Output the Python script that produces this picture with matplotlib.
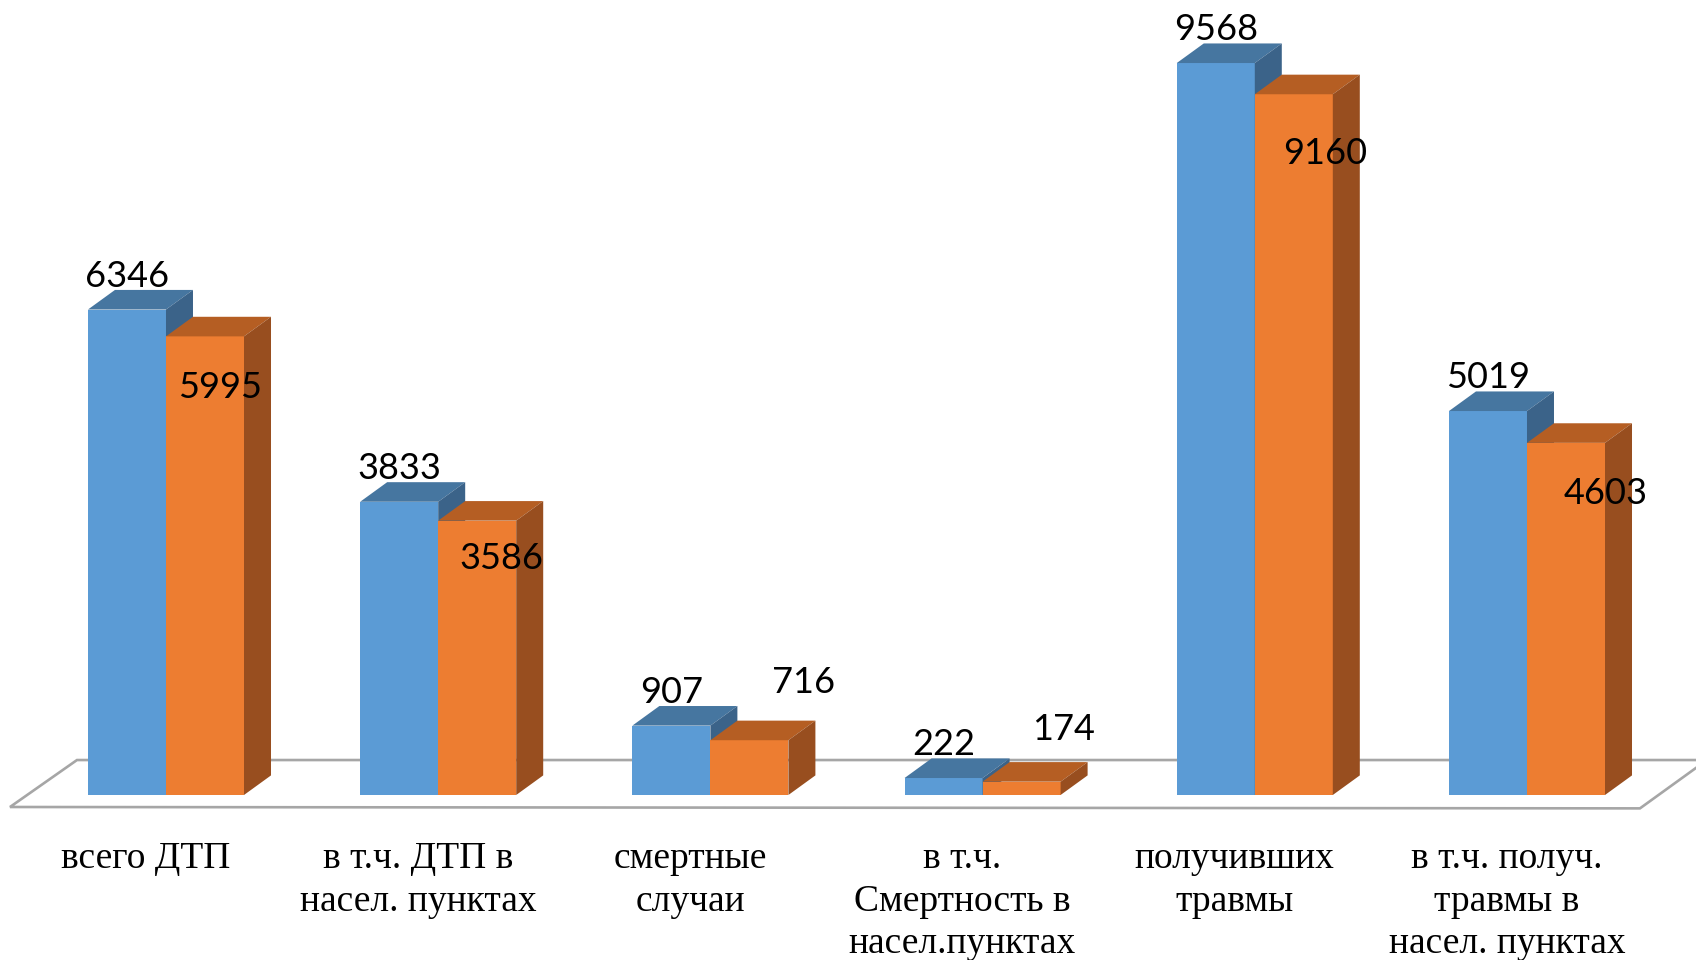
import matplotlib
matplotlib.use("Agg")
import matplotlib.pyplot as plt
from matplotlib.patches import Polygon

# ---- data ----
categories = [
    "всего ДТП",
    "в т.ч. ДТП в\nнасел. пунктах",
    "смертные\nслучаи",
    "в т.ч.\nСмертность в\nнасел.пунктах",
    "получивших\nтравмы",
    "в т.ч. получ.\nтравмы в\nнасел. пунктах",
]
series_a = [6346, 3833, 907, 222, 9568, 5019]   # blue
series_b = [5995, 3586, 716, 174, 9160, 4603]   # orange

# ---- layout / style (not data) ----
orange_label_dx = [15, 24, 54, 42, 31, 40]        # pixels
orange_label_dy = [-62, -48, 47, 42, -70, -61]    # pixels (baseline vs bar top)

BLUE = ("#5B9BD5", "#4676A0", "#3B6389")    # front, top, side
ORANGE = ("#ED7D31", "#B55E23", "#984E1F")
W = 0.2866          # bar width in category units
DX = 0.0992         # depth offset x (category units)
DY = 256            # depth offset y (value units)

fig = plt.figure(figsize=(16.96, 9.6), dpi=100)
ax = fig.add_axes([0, 0, 1, 1])
ax.set_xlim(-0.6098, 5.6209)
ax.set_ylim(-2157, 10392)
ax.axis("off")

# floor
floor = Polygon([(-0.573, -157), (-0.327, 457), (5.661, 457), (5.415, -175)],
                closed=True, facecolor="white", edgecolor="#A6A6A6", lw=1.9, zorder=1)
ax.add_patch(floor)


def bar3d(x0, v, cols, z):
    ax.bar([x0], [v], width=W, align="edge", color=cols[0], zorder=z, linewidth=0)
    top = Polygon([(x0, v), (x0 + DX, v + DY), (x0 + W + DX, v + DY), (x0 + W, v)],
                  closed=True, facecolor=cols[1], edgecolor="none", zorder=z)
    side = Polygon([(x0 + W, 0), (x0 + W + DX, DY), (x0 + W + DX, v + DY), (x0 + W, v)],
                   closed=True, facecolor=cols[2], edgecolor="none", zorder=z)
    ax.add_patch(top)
    ax.add_patch(side)


label_font = dict(family=["Lato", "DejaVu Sans"], fontsize=26, color="black")
for i, (a, b) in enumerate(zip(series_a, series_b)):
    bar3d(i - W, a, BLUE, 2 + 2 * i)
    bar3d(i, b, ORANGE, 3 + 2 * i)
    ax.annotate(f"{a}", xy=(i - W / 2, a), xytext=(0, 23), textcoords="offset pixels",
                ha="center", va="baseline", zorder=20, **label_font)
    ax.annotate(f"{b}", xy=(i + W / 2, b), xytext=(orange_label_dx[i], orange_label_dy[i]),
                textcoords="offset pixels", ha="center", va="baseline", zorder=20, **label_font)
    ax.annotate(categories[i], xy=(i - 0.085, 0), xytext=(3, -47), textcoords="offset pixels",
                ha="center", va="top", multialignment="center", linespacing=1.3,
                family=["Liberation Serif", "DejaVu Serif"], fontsize=27, color="black", zorder=20)

fig.savefig("out.png", dpi=100)
